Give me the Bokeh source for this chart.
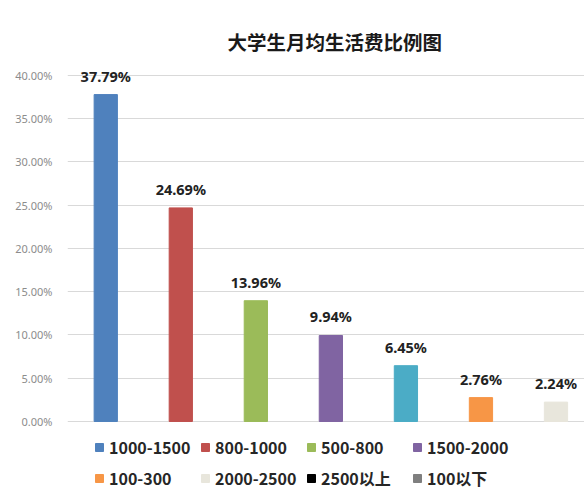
from bokeh.plotting import figure
from bokeh.models import (ColumnDataSource, Range1d, FixedTicker, PrintfTickFormatter,
                          Legend, LegendItem, Title, CDSView, IndexFilter)
from bokeh.core.properties import value
from bokeh.embed import file_html
from bokeh.resources import INLINE

# ---- data ----
categories = ["1000-1500", "800-1000", "500-800", "1500-2000", "300-500",
              "100-300", "2000-2500", "2500以上", "100以下"]
shares = [37.79, 24.69, 13.96, 9.94, 6.45, 2.76, 2.24, 1.42, 0.75]
colors = ["#4F81BD", "#C0504D", "#9BBB59", "#8064A2", "#4BACC6",
          "#F79646", "#E8E6DC", "#000000", "#7F7F7F"]
labels = [f"{v:.2f}%" for v in shares]
legend_order = [0, 1, 2, 3, 5, 6, 7, 8]   # items visible in the legend
y_ticks = [0, 5, 10, 15, 20, 25, 30, 35, 40]

X_START, X_END = -0.51, 6.38
src = ColumnDataSource(dict(x=list(range(len(categories))), cat=categories,
                            share=shares, color=colors, label=labels))
visible = [i for i in range(len(categories)) if i < X_END]

p = figure(width=584, height=490, output_backend="svg", toolbar_location=None,
           x_range=Range1d(X_START, X_END), y_range=Range1d(-7.98, 41.73),
           x_axis_location=None, min_border_left=67, min_border_right=0,
           min_border_top=60, min_border_bottom=0)
p.outline_line_color = None
p.background_fill_color = "white"
p.border_fill_color = "white"

r = p.vbar(x="x", top="share", bottom=0, width=0.31, color="color", source=src)
p.text(x="x", y="share", text="label", source=src,
       view=CDSView(filter=IndexFilter(visible)), y_offset=-19,
       text_align="center", text_baseline="middle",
       text_font=value("Noto Sans"), text_font_style="bold",
       text_font_size="14.5px", text_color="#222222")

ax = p.yaxis[0]
ax.ticker = FixedTicker(ticks=y_ticks)
ax.formatter = PrintfTickFormatter(format="%.2f%%")
ax.axis_line_color = None
ax.major_tick_line_color = None
ax.minor_tick_line_color = None
ax.major_label_text_color = "#8C8C8C"
ax.major_label_text_font = "Noto Sans"
ax.major_label_text_font_size = "11px"
ax.major_label_standoff = 9

p.xgrid.grid_line_color = None
p.ygrid.ticker = FixedTicker(ticks=y_ticks)
p.ygrid.grid_line_color = "#D9D9D9"
p.ygrid.grid_line_width = 1.2

p.title = Title(text="大学生月均生活费比例图", align="left", offset=160,
                text_font="Noto Sans CJK SC", text_font_size="19.5px",
                text_font_style="bold", text_color="#1A1A1A", standoff=9)

items = [LegendItem(label=categories[i], renderers=[r], index=i) for i in legend_order]
legend = Legend(items=items, ncols=4, orientation="horizontal", location=(27, 0),
                label_text_font="Noto Sans CJK SC", label_text_font_size="16px",
                label_text_font_style="bold", label_text_color="#262626",
                glyph_width=10, glyph_height=10, label_standoff=5, label_width=84,
                label_height=20, spacing=7, padding=0, margin=0,
                border_line_color=None, background_fill_alpha=0)
p.add_layout(legend)

open("out.html", "w").write(file_html(p, INLINE))
